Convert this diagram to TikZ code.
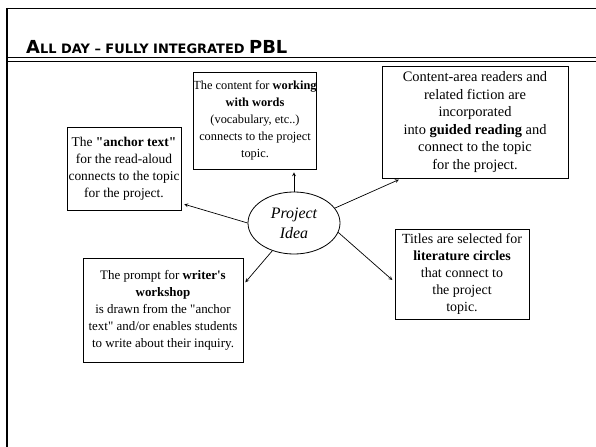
\documentclass[tikz,border=0pt]{standalone}
\usepackage{fontspec}
\setmainfont{Liberation Serif}[Ligatures=TeXOff]
\newfontfamily\titlefont{DejaVu Sans}
\usetikzlibrary{shapes.geometric}

\begin{document}
\begin{tikzpicture}[x=1bp,y=-1bp,
  txtbox/.style={draw, line width=0.8bp, align=center, inner sep=0pt,
    font=\fontsize{13}{17}\selectfont},
  link/.style={->, >=stealth, line width=0.7bp, shorten >=3bp}]
  \useasboundingbox (0,0) rectangle (596,447);
  % slide frame and title rules
  \draw[line width=2.5bp] (7,8) -- (7,447);
  \draw[line width=0.6bp] (7,8) -- (596,8);
  \draw[line width=0.8bp] (7,57.5) -- (596,57.5);
  \draw[line width=0.8bp] (7,61.5) -- (596,61.5);
  \node[anchor=base west, inner sep=0pt] (title) at (26,54)
    {\titlefont\bfseries{\fontsize{18}{18}\selectfont A}{\fontsize{13}{13}\selectfont LL DAY – FULLY INTEGRATED }{\fontsize{18}{18}\selectfont PBL}};

  % the idea in the middle
  \node[draw, ellipse, line width=0.8bp, minimum width=92bp, minimum height=62bp, inner sep=0pt,
    align=center, font=\itshape\fontsize{16}{20}\selectfont] (idea) at (294,223) {Project\\Idea};

  % the boxes round it
  \node[txtbox, minimum width=122bp, minimum height=97bp, font=\fontsize{12.4}{17}\selectfont] (words) at (255,120.5)
    {The content for \textbf{working}\\\textbf{with words}\\(vocabulary, etc..)\\connects to the project\\topic.};
  \node[txtbox, minimum width=186bp, minimum height=112bp, font=\fontsize{14.5}{17.5}\selectfont] (readers) at (475,122)
    {Content-area readers and\\related fiction are\\incorporated\\into \textbf{guided reading} and\\connect to the topic\\for the project.};
  \node[txtbox, minimum width=114bp, minimum height=83bp, font=\fontsize{13.5}{17}\selectfont] (anchor) at (124,168.5)
    {The \textbf{"anchor text"}\\for the read-aloud\\connects to the topic\\for the project.};
  \node[txtbox, minimum width=160bp, minimum height=104bp] (workshop) at (163,310)
    {The prompt for \textbf{writer's}\\\textbf{workshop}\\is drawn from the "anchor\\text" and/or enables students\\to write about their inquiry.};
  \node[txtbox, minimum width=134bp, minimum height=90bp, font=\fontsize{14}{17}\selectfont] (circles) at (462,274)
    {Titles are selected for\\\textbf{literature circles}\\that connect to\\the project\\topic.};

  % arrows out of the idea
  \draw[link] (idea.north) -- (words.south -| idea.north);
  \draw[link] (idea.20) -- ([xshift=20bp]readers.south west);
  \draw[link] (idea.west) -- ([yshift=7bp]anchor.south east);
  \draw[link] (idea.232) -- ([yshift=-27bp]workshop.north east);
  \draw[link] (idea.-12) -- ([yshift=-8bp]circles.west);
\end{tikzpicture}
\end{document}
